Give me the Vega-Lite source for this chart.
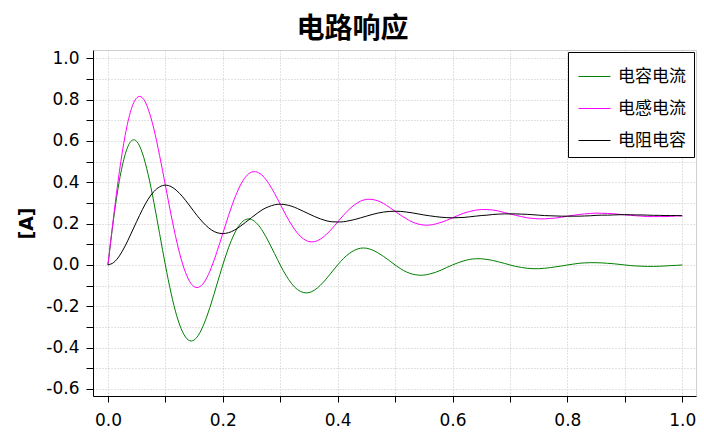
{
  "$schema": "https://vega.github.io/schema/vega-lite/v6.json",
  "width": 603,
  "height": 346,
  "autosize": {"type": "none"},
  "padding": {"left": 93, "top": 50, "right": 8, "bottom": 38},
  "background": "white",
  "title": {
    "text": "电路响应",
    "font": "Noto Sans CJK SC",
    "fontSize": 28,
    "fontWeight": "bold",
    "color": "black",
    "anchor": "middle",
    "frame": "group",
    "dx": -42,
    "offset": 5
  },
  "data": {
    "values": [
      {"t": 0.00, "s": "电容电流", "v": 0},
      {"t": 0.01, "s": "电容电流", "v": 0.226},
      {"t": 0.02, "s": "电容电流", "v": 0.409},
      {"t": 0.03, "s": "电容电流", "v": 0.535},
      {"t": 0.04, "s": "电容电流", "v": 0.598},
      {"t": 0.05, "s": "电容电流", "v": 0.598},
      {"t": 0.06, "s": "电容电流", "v": 0.541},
      {"t": 0.07, "s": "电容电流", "v": 0.438},
      {"t": 0.08, "s": "电容电流", "v": 0.303},
      {"t": 0.09, "s": "电容电流", "v": 0.151},
      {"t": 0.10, "s": "电容电流", "v": 0},
      {"t": 0.11, "s": "电容电流", "v": -0.137},
      {"t": 0.12, "s": "电容电流", "v": -0.248},
      {"t": 0.13, "s": "电容电流", "v": -0.324},
      {"t": 0.14, "s": "电容电流", "v": -0.363},
      {"t": 0.15, "s": "电容电流", "v": -0.363},
      {"t": 0.16, "s": "电容电流", "v": -0.328},
      {"t": 0.17, "s": "电容电流", "v": -0.266},
      {"t": 0.18, "s": "电容电流", "v": -0.184},
      {"t": 0.19, "s": "电容电流", "v": -0.092},
      {"t": 0.20, "s": "电容电流", "v": 0},
      {"t": 0.21, "s": "电容电流", "v": 0.083},
      {"t": 0.22, "s": "电容电流", "v": 0.150},
      {"t": 0.23, "s": "电容电流", "v": 0.197},
      {"t": 0.24, "s": "电容电流", "v": 0.220},
      {"t": 0.25, "s": "电容电流", "v": 0.220},
      {"t": 0.26, "s": "电容电流", "v": 0.199},
      {"t": 0.27, "s": "电容电流", "v": 0.161},
      {"t": 0.28, "s": "电容电流", "v": 0.111},
      {"t": 0.29, "s": "电容电流", "v": 0.056},
      {"t": 0.30, "s": "电容电流", "v": 0},
      {"t": 0.31, "s": "电容电流", "v": -0.050},
      {"t": 0.32, "s": "电容电流", "v": -0.091},
      {"t": 0.33, "s": "电容电流", "v": -0.119},
      {"t": 0.34, "s": "电容电流", "v": -0.133},
      {"t": 0.35, "s": "电容电流", "v": -0.134},
      {"t": 0.36, "s": "电容电流", "v": -0.121},
      {"t": 0.37, "s": "电容电流", "v": -0.098},
      {"t": 0.38, "s": "电容电流", "v": -0.068},
      {"t": 0.39, "s": "电容电流", "v": -0.034},
      {"t": 0.40, "s": "电容电流", "v": 0},
      {"t": 0.41, "s": "电容电流", "v": 0.031},
      {"t": 0.42, "s": "电容电流", "v": 0.055},
      {"t": 0.43, "s": "电容电流", "v": 0.072},
      {"t": 0.44, "s": "电容电流", "v": 0.081},
      {"t": 0.45, "s": "电容电流", "v": 0.081},
      {"t": 0.46, "s": "电容电流", "v": 0.073},
      {"t": 0.47, "s": "电容电流", "v": 0.059},
      {"t": 0.48, "s": "电容电流", "v": 0.041},
      {"t": 0.49, "s": "电容电流", "v": 0.021},
      {"t": 0.50, "s": "电容电流", "v": 0},
      {"t": 0.51, "s": "电容电流", "v": -0.019},
      {"t": 0.52, "s": "电容电流", "v": -0.034},
      {"t": 0.53, "s": "电容电流", "v": -0.044},
      {"t": 0.54, "s": "电容电流", "v": -0.049},
      {"t": 0.55, "s": "电容电流", "v": -0.049},
      {"t": 0.56, "s": "电容电流", "v": -0.044},
      {"t": 0.57, "s": "电容电流", "v": -0.036},
      {"t": 0.58, "s": "电容电流", "v": -0.025},
      {"t": 0.59, "s": "电容电流", "v": -0.012},
      {"t": 0.60, "s": "电容电流", "v": 0},
      {"t": 0.61, "s": "电容电流", "v": 0.011},
      {"t": 0.62, "s": "电容电流", "v": 0.020},
      {"t": 0.63, "s": "电容电流", "v": 0.027},
      {"t": 0.64, "s": "电容电流", "v": 0.030},
      {"t": 0.65, "s": "电容电流", "v": 0.030},
      {"t": 0.66, "s": "电容电流", "v": 0.027},
      {"t": 0.67, "s": "电容电流", "v": 0.022},
      {"t": 0.68, "s": "电容电流", "v": 0.015},
      {"t": 0.69, "s": "电容电流", "v": 0.008},
      {"t": 0.70, "s": "电容电流", "v": 0},
      {"t": 0.71, "s": "电容电流", "v": -0.007},
      {"t": 0.72, "s": "电容电流", "v": -0.012},
      {"t": 0.73, "s": "电容电流", "v": -0.016},
      {"t": 0.74, "s": "电容电流", "v": -0.018},
      {"t": 0.75, "s": "电容电流", "v": -0.018},
      {"t": 0.76, "s": "电容电流", "v": -0.016},
      {"t": 0.77, "s": "电容电流", "v": -0.013},
      {"t": 0.78, "s": "电容电流", "v": -0.009},
      {"t": 0.79, "s": "电容电流", "v": -0.005},
      {"t": 0.80, "s": "电容电流", "v": 0},
      {"t": 0.81, "s": "电容电流", "v": 0.004},
      {"t": 0.82, "s": "电容电流", "v": 0.008},
      {"t": 0.83, "s": "电容电流", "v": 0.010},
      {"t": 0.84, "s": "电容电流", "v": 0.011},
      {"t": 0.85, "s": "电容电流", "v": 0.011},
      {"t": 0.86, "s": "电容电流", "v": 0.010},
      {"t": 0.87, "s": "电容电流", "v": 0.008},
      {"t": 0.88, "s": "电容电流", "v": 0.006},
      {"t": 0.89, "s": "电容电流", "v": 0.003},
      {"t": 0.90, "s": "电容电流", "v": 0},
      {"t": 0.91, "s": "电容电流", "v": -0.003},
      {"t": 0.92, "s": "电容电流", "v": -0.005},
      {"t": 0.93, "s": "电容电流", "v": -0.006},
      {"t": 0.94, "s": "电容电流", "v": -0.007},
      {"t": 0.95, "s": "电容电流", "v": -0.007},
      {"t": 0.96, "s": "电容电流", "v": -0.006},
      {"t": 0.97, "s": "电容电流", "v": -0.005},
      {"t": 0.98, "s": "电容电流", "v": -0.003},
      {"t": 0.99, "s": "电容电流", "v": -0.002},
      {"t": 1.00, "s": "电容电流", "v": 0},
      {"t": 0.00, "s": "电感电流", "v": 0},
      {"t": 0.01, "s": "电感电流", "v": 0.237},
      {"t": 0.02, "s": "电感电流", "v": 0.453},
      {"t": 0.03, "s": "电感电流", "v": 0.627},
      {"t": 0.04, "s": "电感电流", "v": 0.748},
      {"t": 0.05, "s": "电感电流", "v": 0.808},
      {"t": 0.06, "s": "电感电流", "v": 0.809},
      {"t": 0.07, "s": "电感电流", "v": 0.755},
      {"t": 0.08, "s": "电感电流", "v": 0.658},
      {"t": 0.09, "s": "电感电流", "v": 0.529},
      {"t": 0.10, "s": "电感电流", "v": 0.386},
      {"t": 0.11, "s": "电感电流", "v": 0.242},
      {"t": 0.12, "s": "电感电流", "v": 0.111},
      {"t": 0.13, "s": "电感电流", "v": 0.005},
      {"t": 0.14, "s": "电感电流", "v": -0.068},
      {"t": 0.15, "s": "电感电流", "v": -0.105},
      {"t": 0.16, "s": "电感电流", "v": -0.105},
      {"t": 0.17, "s": "电感电流", "v": -0.073},
      {"t": 0.18, "s": "电感电流", "v": -0.013},
      {"t": 0.19, "s": "电感电流", "v": 0.065},
      {"t": 0.20, "s": "电感电流", "v": 0.152},
      {"t": 0.21, "s": "电感电流", "v": 0.239},
      {"t": 0.22, "s": "电感电流", "v": 0.318},
      {"t": 0.23, "s": "电感电流", "v": 0.382},
      {"t": 0.24, "s": "电感电流", "v": 0.427},
      {"t": 0.25, "s": "电感电流", "v": 0.449},
      {"t": 0.26, "s": "电感电流", "v": 0.449},
      {"t": 0.27, "s": "电感电流", "v": 0.430},
      {"t": 0.28, "s": "电感电流", "v": 0.394},
      {"t": 0.29, "s": "电感电流", "v": 0.347},
      {"t": 0.30, "s": "电感电流", "v": 0.294},
      {"t": 0.31, "s": "电感电流", "v": 0.241},
      {"t": 0.32, "s": "电感电流", "v": 0.193},
      {"t": 0.33, "s": "电感电流", "v": 0.154},
      {"t": 0.34, "s": "电感电流", "v": 0.127},
      {"t": 0.35, "s": "电感电流", "v": 0.113},
      {"t": 0.36, "s": "电感电流", "v": 0.113},
      {"t": 0.37, "s": "电感电流", "v": 0.125},
      {"t": 0.38, "s": "电感电流", "v": 0.147},
      {"t": 0.39, "s": "电感电流", "v": 0.175},
      {"t": 0.40, "s": "电感电流", "v": 0.208},
      {"t": 0.41, "s": "电感电流", "v": 0.240},
      {"t": 0.42, "s": "电感电流", "v": 0.269},
      {"t": 0.43, "s": "电感电流", "v": 0.292},
      {"t": 0.44, "s": "电感电流", "v": 0.309},
      {"t": 0.45, "s": "电感电流", "v": 0.317},
      {"t": 0.46, "s": "电感电流", "v": 0.317},
      {"t": 0.47, "s": "电感电流", "v": 0.310},
      {"t": 0.48, "s": "电感电流", "v": 0.297},
      {"t": 0.49, "s": "电感电流", "v": 0.279},
      {"t": 0.50, "s": "电感电流", "v": 0.260},
      {"t": 0.51, "s": "电感电流", "v": 0.240},
      {"t": 0.52, "s": "电感电流", "v": 0.223},
      {"t": 0.53, "s": "电感电流", "v": 0.208},
      {"t": 0.54, "s": "电感电流", "v": 0.198},
      {"t": 0.55, "s": "电感电流", "v": 0.193},
      {"t": 0.56, "s": "电感电流", "v": 0.193},
      {"t": 0.57, "s": "电感电流", "v": 0.198},
      {"t": 0.58, "s": "电感电流", "v": 0.206},
      {"t": 0.59, "s": "电感电流", "v": 0.216},
      {"t": 0.60, "s": "电感电流", "v": 0.228},
      {"t": 0.61, "s": "电感电流", "v": 0.240},
      {"t": 0.62, "s": "电感电流", "v": 0.251},
      {"t": 0.63, "s": "电感电流", "v": 0.259},
      {"t": 0.64, "s": "电感电流", "v": 0.265},
      {"t": 0.65, "s": "电感电流", "v": 0.268},
      {"t": 0.66, "s": "电感电流", "v": 0.268},
      {"t": 0.67, "s": "电感电流", "v": 0.266},
      {"t": 0.68, "s": "电感电流", "v": 0.261},
      {"t": 0.69, "s": "电感电流", "v": 0.254},
      {"t": 0.70, "s": "电感电流", "v": 0.247},
      {"t": 0.71, "s": "电感电流", "v": 0.240},
      {"t": 0.72, "s": "电感电流", "v": 0.234},
      {"t": 0.73, "s": "电感电流", "v": 0.228},
      {"t": 0.74, "s": "电感电流", "v": 0.225},
      {"t": 0.75, "s": "电感电流", "v": 0.223},
      {"t": 0.76, "s": "电感电流", "v": 0.223},
      {"t": 0.77, "s": "电感电流", "v": 0.225},
      {"t": 0.78, "s": "电感电流", "v": 0.227},
      {"t": 0.79, "s": "电感电流", "v": 0.231},
      {"t": 0.80, "s": "电感电流", "v": 0.236},
      {"t": 0.81, "s": "电感电流", "v": 0.240},
      {"t": 0.82, "s": "电感电流", "v": 0.244},
      {"t": 0.83, "s": "电感电流", "v": 0.247},
      {"t": 0.84, "s": "电感电流", "v": 0.249},
      {"t": 0.85, "s": "电感电流", "v": 0.251},
      {"t": 0.86, "s": "电感电流", "v": 0.250},
      {"t": 0.87, "s": "电感电流", "v": 0.249},
      {"t": 0.88, "s": "电感电流", "v": 0.248},
      {"t": 0.89, "s": "电感电流", "v": 0.245},
      {"t": 0.90, "s": "电感电流", "v": 0.243},
      {"t": 0.91, "s": "电感电流", "v": 0.240},
      {"t": 0.92, "s": "电感电流", "v": 0.238},
      {"t": 0.93, "s": "电感电流", "v": 0.236},
      {"t": 0.94, "s": "电感电流", "v": 0.234},
      {"t": 0.95, "s": "电感电流", "v": 0.234},
      {"t": 0.96, "s": "电感电流", "v": 0.234},
      {"t": 0.97, "s": "电感电流", "v": 0.234},
      {"t": 0.98, "s": "电感电流", "v": 0.235},
      {"t": 0.99, "s": "电感电流", "v": 0.237},
      {"t": 1.00, "s": "电感电流", "v": 0.238},
      {"t": 0.00, "s": "电阻电容", "v": 0},
      {"t": 0.01, "s": "电阻电容", "v": 0.012},
      {"t": 0.02, "s": "电阻电容", "v": 0.044},
      {"t": 0.03, "s": "电阻电容", "v": 0.092},
      {"t": 0.04, "s": "电阻电容", "v": 0.150},
      {"t": 0.05, "s": "电阻电容", "v": 0.210},
      {"t": 0.06, "s": "电阻电容", "v": 0.268},
      {"t": 0.07, "s": "电阻电容", "v": 0.318},
      {"t": 0.08, "s": "电阻电容", "v": 0.355},
      {"t": 0.09, "s": "电阻电容", "v": 0.378},
      {"t": 0.10, "s": "电阻电容", "v": 0.386},
      {"t": 0.11, "s": "电阻电容", "v": 0.379},
      {"t": 0.12, "s": "电阻电容", "v": 0.359},
      {"t": 0.13, "s": "电阻电容", "v": 0.330},
      {"t": 0.14, "s": "电阻电容", "v": 0.295},
      {"t": 0.15, "s": "电阻电容", "v": 0.258},
      {"t": 0.16, "s": "电阻电容", "v": 0.223},
      {"t": 0.17, "s": "电阻电容", "v": 0.193},
      {"t": 0.18, "s": "电阻电容", "v": 0.170},
      {"t": 0.19, "s": "电阻电容", "v": 0.156},
      {"t": 0.20, "s": "电阻电容", "v": 0.152},
      {"t": 0.21, "s": "电阻电容", "v": 0.156},
      {"t": 0.22, "s": "电阻电容", "v": 0.168},
      {"t": 0.23, "s": "电阻电容", "v": 0.186},
      {"t": 0.24, "s": "电阻电容", "v": 0.207},
      {"t": 0.25, "s": "电阻电容", "v": 0.229},
      {"t": 0.26, "s": "电阻电容", "v": 0.250},
      {"t": 0.27, "s": "电阻电容", "v": 0.269},
      {"t": 0.28, "s": "电阻电容", "v": 0.282},
      {"t": 0.29, "s": "电阻电容", "v": 0.291},
      {"t": 0.30, "s": "电阻电容", "v": 0.294},
      {"t": 0.31, "s": "电阻电容", "v": 0.291},
      {"t": 0.32, "s": "电阻电容", "v": 0.284},
      {"t": 0.33, "s": "电阻电容", "v": 0.273},
      {"t": 0.34, "s": "电阻电容", "v": 0.260},
      {"t": 0.35, "s": "电阻电容", "v": 0.247},
      {"t": 0.36, "s": "电阻电容", "v": 0.234},
      {"t": 0.37, "s": "电阻电容", "v": 0.223},
      {"t": 0.38, "s": "电阻电容", "v": 0.214},
      {"t": 0.39, "s": "电阻电容", "v": 0.209},
      {"t": 0.40, "s": "电阻电容", "v": 0.208},
      {"t": 0.41, "s": "电阻电容", "v": 0.209},
      {"t": 0.42, "s": "电阻电容", "v": 0.214},
      {"t": 0.43, "s": "电阻电容", "v": 0.220},
      {"t": 0.44, "s": "电阻电容", "v": 0.228},
      {"t": 0.45, "s": "电阻电容", "v": 0.236},
      {"t": 0.46, "s": "电阻电容", "v": 0.244},
      {"t": 0.47, "s": "电阻电容", "v": 0.251},
      {"t": 0.48, "s": "电阻电容", "v": 0.256},
      {"t": 0.49, "s": "电阻电容", "v": 0.259},
      {"t": 0.50, "s": "电阻电容", "v": 0.260},
      {"t": 0.51, "s": "电阻电容", "v": 0.259},
      {"t": 0.52, "s": "电阻电容", "v": 0.256},
      {"t": 0.53, "s": "电阻电容", "v": 0.252},
      {"t": 0.54, "s": "电阻电容", "v": 0.247},
      {"t": 0.55, "s": "电阻电容", "v": 0.242},
      {"t": 0.56, "s": "电阻电容", "v": 0.238},
      {"t": 0.57, "s": "电阻电容", "v": 0.234},
      {"t": 0.58, "s": "电阻电容", "v": 0.231},
      {"t": 0.59, "s": "电阻电容", "v": 0.229},
      {"t": 0.60, "s": "电阻电容", "v": 0.228},
      {"t": 0.61, "s": "电阻电容", "v": 0.229},
      {"t": 0.62, "s": "电阻电容", "v": 0.230},
      {"t": 0.63, "s": "电阻电容", "v": 0.233},
      {"t": 0.64, "s": "电阻电容", "v": 0.236},
      {"t": 0.65, "s": "电阻电容", "v": 0.239},
      {"t": 0.66, "s": "电阻电容", "v": 0.241},
      {"t": 0.67, "s": "电阻电容", "v": 0.244},
      {"t": 0.68, "s": "电阻电容", "v": 0.246},
      {"t": 0.69, "s": "电阻电容", "v": 0.247},
      {"t": 0.70, "s": "电阻电容", "v": 0.247},
      {"t": 0.71, "s": "电阻电容", "v": 0.247},
      {"t": 0.72, "s": "电阻电容", "v": 0.246},
      {"t": 0.73, "s": "电阻电容", "v": 0.245},
      {"t": 0.74, "s": "电阻电容", "v": 0.243},
      {"t": 0.75, "s": "电阻电容", "v": 0.241},
      {"t": 0.76, "s": "电阻电容", "v": 0.239},
      {"t": 0.77, "s": "电阻电容", "v": 0.238},
      {"t": 0.78, "s": "电阻电容", "v": 0.237},
      {"t": 0.79, "s": "电阻电容", "v": 0.236},
      {"t": 0.80, "s": "电阻电容", "v": 0.236},
      {"t": 0.81, "s": "电阻电容", "v": 0.236},
      {"t": 0.82, "s": "电阻电容", "v": 0.236},
      {"t": 0.83, "s": "电阻电容", "v": 0.237},
      {"t": 0.84, "s": "电阻电容", "v": 0.238},
      {"t": 0.85, "s": "电阻电容", "v": 0.240},
      {"t": 0.86, "s": "电阻电容", "v": 0.241},
      {"t": 0.87, "s": "电阻电容", "v": 0.241},
      {"t": 0.88, "s": "电阻电容", "v": 0.242},
      {"t": 0.89, "s": "电阻电容", "v": 0.243},
      {"t": 0.90, "s": "电阻电容", "v": 0.243},
      {"t": 0.91, "s": "电阻电容", "v": 0.243},
      {"t": 0.92, "s": "电阻电容", "v": 0.242},
      {"t": 0.93, "s": "电阻电容", "v": 0.242},
      {"t": 0.94, "s": "电阻电容", "v": 0.241},
      {"t": 0.95, "s": "电阻电容", "v": 0.240},
      {"t": 0.96, "s": "电阻电容", "v": 0.240},
      {"t": 0.97, "s": "电阻电容", "v": 0.239},
      {"t": 0.98, "s": "电阻电容", "v": 0.239},
      {"t": 0.99, "s": "电阻电容", "v": 0.239},
      {"t": 1.00, "s": "电阻电容", "v": 0.238}
    ]
  },
  "mark": {"type": "line", "strokeWidth": 1, "interpolate": "natural"},
  "encoding": {
    "x": {
      "field": "t",
      "type": "quantitative",
      "scale": {"domain": [-0.026, 1.024], "nice": false, "zero": false},
      "axis": {
        "title": null,
        "values": [0, 0.1, 0.2, 0.3, 0.4, 0.5, 0.6, 0.7, 0.8, 0.9, 1.0],
        "labelExpr": "round(datum.value * 10) % 2 == 0 ? format(datum.value, '.1f') : ''",
        "tickSize": 6,
        "labelPadding": 10
      }
    },
    "y": {
      "field": "v",
      "type": "quantitative",
      "scale": {"domain": [-0.634, 1.04], "nice": false, "zero": false},
      "axis": {
        "title": "[A]",
        "values": [-0.6, -0.5, -0.4, -0.3, -0.2, -0.1, 0, 0.1, 0.2, 0.3, 0.4, 0.5, 0.6, 0.7, 0.8, 0.9, 1.0],
        "labelExpr": "round(datum.value * 10) % 2 == 0 ? (datum.value < 0 ? '-' : '') + format(abs(datum.value), '.1f') : ''",
        "tickSize": 7,
        "labelPadding": 7,
        "titleX": -67,
        "titleY": 173,
        "titleAngle": 270,
        "titleAlign": "center",
        "titleBaseline": "middle",
        "titleFont": "DejaVu Sans",
        "titleFontSize": 19,
        "titleFontWeight": "bold",
        "titleColor": "black"
      }
    },
    "color": {
      "field": "s",
      "type": "nominal",
      "scale": {
        "domain": ["电容电流", "电感电流", "电阻电容"],
        "range": ["#008000", "#ff00ff", "#000000"]
      },
      "legend": {
        "title": null,
        "orient": "top-right",
        "offset": 2,
        "strokeColor": "black",
        "fillColor": "white",
        "padding": 8,
        "symbolType": "stroke",
        "symbolSize": 1024,
        "symbolStrokeWidth": 1,
        "symbolOffset": 2,
        "labelFont": "Noto Sans CJK SC",
        "labelFontSize": 17,
        "labelColor": "black",
        "labelOffset": 7,
        "rowPadding": 7
      }
    }
  },
  "config": {
    "view": {"stroke": "#d0d0d0", "strokeWidth": 1},
    "axis": {
      "grid": true,
      "gridColor": "#c4c4c4",
      "gridDash": [1, 2],
      "gridWidth": 1,
      "domainColor": "black",
      "domainWidth": 1,
      "tickColor": "black",
      "tickWidth": 1,
      "labelFont": "DejaVu Sans",
      "labelFontSize": 17,
      "labelColor": "black",
      "labelOverlap": false,
      "labelFlush": false
    }
  }
}
